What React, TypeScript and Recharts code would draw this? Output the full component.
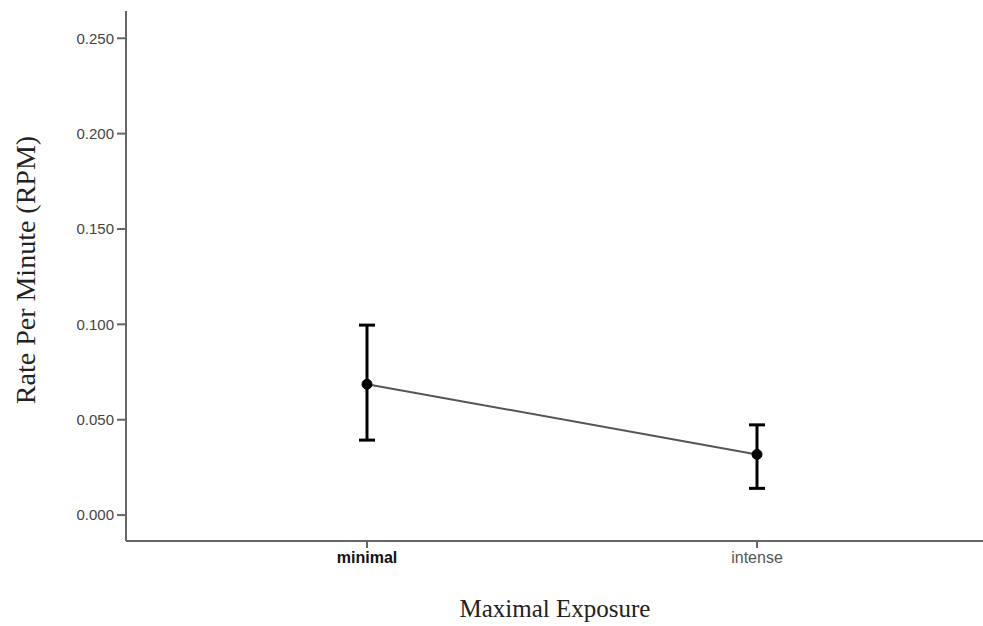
import React from "react";
import {
  LineChart,
  Line,
  XAxis,
  YAxis,
  ErrorBar,
  Label
} from "recharts";

const categories = ["minimal", "intense"];
const means = [0.0686, 0.0318];
const lower = [0.0393, 0.014];
const upper = [0.0996, 0.0473];
const yTicks = [0, 0.05, 0.1, 0.15, 0.2, 0.25];

const data = categories.map((name, i) => ({
  name,
  rpm: means[i],
  err: [means[i] - lower[i], upper[i] - means[i]]
}));

const AXIS = "#666";

const XTick = (props: any) => {
  const { x, y, payload } = props;
  const first = payload.value === categories[0];
  return (
    <text
      x={x}
      y={y}
      dy={12}
      textAnchor="middle"
      fontFamily="Liberation Sans, Arial, sans-serif"
      fontSize={16}
      fontWeight={first ? "bold" : "normal"}
      fill={first ? "#111" : "#555"}
    >
      {payload.value}
    </text>
  );
};

export default function App() {
  return (
    <div
      style={{
        position: "absolute",
        left: 0,
        top: 0,
        width: 983,
        height: 626,
        overflow: "hidden",
        background: "#fff"
      }}
    >
      <LineChart
        width={1000}
        height={626}
        data={data}
        margin={{ top: 11, right: 2, bottom: 55, left: 46 }}
      >
        <XAxis
          xAxisId="top"
          orientation="top"
          dataKey="name"
          height={0}
          tick={false}
          tickLine={false}
          stroke={AXIS}
          strokeWidth={2}
          padding={{ left: 241, right: 241 }}
        />
        <XAxis
          dataKey="name"
          height={30}
          padding={{ left: 241, right: 241 }}
          stroke={AXIS}
          strokeWidth={2}
          tickSize={7}
          tickMargin={3}
          tick={<XTick />}
        >
          <Label
            content={({ viewBox }: any) => (
              <text
                x={555}
                y={viewBox.y + viewBox.height + 46}
                textAnchor="middle"
                fontFamily="Liberation Serif, Times New Roman, serif"
                fontSize={25}
                fill="#222"
              >
                Maximal Exposure
              </text>
            )}
          />
        </XAxis>
        <YAxis
          width={80}
          domain={[-0.0136, 0.2643]}
          ticks={yTicks}
          tickFormatter={(v: number) => v.toFixed(3)}
          stroke={AXIS}
          strokeWidth={2}
          tickSize={9}
          tickMargin={3}
          tick={{ fill: "#444", fontSize: 15, fontFamily: "Liberation Sans, Arial, sans-serif" }}
        >
          <Label
            content={() => {
              const cx = 25;
              const cy = 270;
              return (
                <text
                  x={cx}
                  y={cy}
                  transform={`rotate(-90, ${cx}, ${cy})`}
                  textAnchor="middle"
                  dominantBaseline="central"
                  fontFamily="Liberation Serif, Times New Roman, serif"
                  fontSize={28}
                  fill="#222"
                >
                  Rate Per Minute (RPM)
                </text>
              );
            }}
          />
        </YAxis>
        <Line
          dataKey="rpm"
          stroke="#555"
          strokeWidth={2}
          dot={{ r: 5, fill: "#000", stroke: "#000", strokeWidth: 1 }}
          isAnimationActive={false}
        >
          <ErrorBar dataKey="err" width={8} stroke="#000" strokeWidth={3} direction="y" />
        </Line>
      </LineChart>
    </div>
  );
}
